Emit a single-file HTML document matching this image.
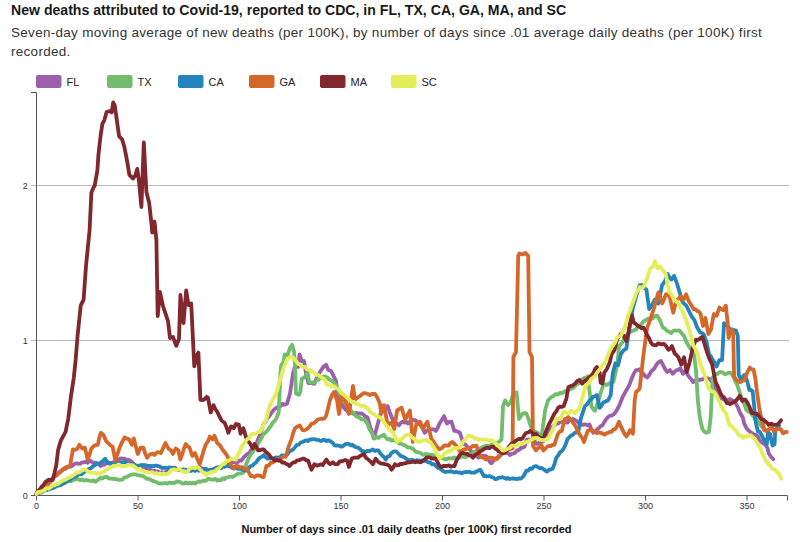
<!DOCTYPE html>
<html><head><meta charset="utf-8">
<style>
html,body{margin:0;padding:0;background:#fff;width:800px;height:542px;overflow:hidden}
body{position:relative;font-family:"Liberation Sans",sans-serif;color:#222}
.t{position:absolute;left:11px;top:0.3px;font-size:14.1px;font-weight:bold;white-space:nowrap;line-height:20px;color:#1a1a1a}
.s{position:absolute;left:11px;top:24px;font-size:13.5px;letter-spacing:0.29px;line-height:18.5px;color:#333;white-space:nowrap}
svg{position:absolute;left:0;top:0}
</style></head>
<body>
<div class="t">New deaths attributed to Covid-19, reported to CDC, in FL, TX, CA, GA, MA, and SC</div>
<div class="s">Seven-day moving average of new deaths (per 100K), by number of days since .01 average daily deaths (per 100K) first<br>recorded.</div>
<svg width="800" height="542" viewBox="0 0 800 542" font-family="Liberation Sans, sans-serif">
<g id="legend" font-size="11" fill="#222">
<rect x="36" y="75" width="25.5" height="13" rx="2" fill="#9b5fab"/><text x="66.5" y="86">FL</text>
<rect x="107" y="75" width="25.5" height="13" rx="2" fill="#72bd6c"/><text x="137.5" y="86">TX</text>
<rect x="178" y="75" width="25.5" height="13" rx="2" fill="#2584bb"/><text x="208.5" y="86">CA</text>
<rect x="249" y="75" width="25.5" height="13" rx="2" fill="#d5672a"/><text x="279.5" y="86">GA</text>
<rect x="320" y="75" width="25.5" height="13" rx="2" fill="#80282e"/><text x="350.5" y="86">MA</text>
<rect x="391" y="75" width="25.5" height="13" rx="2" fill="#e4ee5a"/><text x="421.5" y="86">SC</text>
</g>
<g id="grid" stroke="#bbb" stroke-width="1">
<line x1="31" y1="185.5" x2="789" y2="185.5"/>
<line x1="31" y1="340.5" x2="789" y2="340.5"/>
</g>
<g id="axes" fill="none" stroke="#555" stroke-width="1">
<path d="M31,92.5H36.5V495.5H31"/>
<path d="M36.5,500.5V495.5H787.5V500.5"/>
<path d="M138,495.5V500.5M239.5,495.5V500.5M341,495.5V500.5M442.5,495.5V500.5M544,495.5V500.5M645.5,495.5V500.5M747,495.5V500.5"/>
</g>
<g id="ylab" font-size="9" fill="#333" text-anchor="end">
<text x="27.7" y="498.7">0</text>
<text x="27.7" y="188.7">2</text>
<text x="27.7" y="343.7">1</text>
</g>
<g id="xlab" font-size="9" fill="#333" text-anchor="middle">
<text x="36.5" y="509.4">0</text>
<text x="138" y="509.4">50</text>
<text x="239.5" y="509.4">100</text>
<text x="341" y="509.4">150</text>
<text x="442.5" y="509.4">200</text>
<text x="544" y="509.4">250</text>
<text x="645.5" y="509.4">300</text>
<text x="747" y="509.4">350</text>
</g>
<text x="406.5" y="533" font-size="11" font-weight="bold" text-anchor="middle" fill="#111">Number of days since .01 daily deaths (per 100K) first recorded</text>
<g id="lines" fill="none" stroke-width="3.8" stroke-linejoin="round" stroke-linecap="round">
<path stroke="#9b5fab" d="M36.5,494.0 L37.8,491.0 L40.0,489.1 L42.1,487.2 L44.3,486.7 L46.5,483.9 L48.6,483.3 L50.8,481.7 L52.6,479.4 L54.5,476.7 L56.3,475.5 L58.1,473.4 L60.0,471.3 L61.8,471.0 L63.6,469.1 L65.5,468.8 L67.3,467.1 L69.2,466.8 L71.1,466.7 L72.9,465.1 L74.7,463.8 L76.6,463.4 L78.4,463.7 L80.3,463.8 L82.1,462.3 L84.0,462.3 L85.8,461.7 L87.7,462.7 L89.5,460.7 L91.4,461.4 L93.2,463.0 L95.1,462.8 L96.9,463.4 L98.8,464.3 L100.6,466.0 L102.4,464.7 L104.3,464.8 L106.1,463.3 L107.9,462.4 L109.8,463.0 L111.7,462.8 L113.5,462.3 L115.3,461.3 L117.2,461.0 L119.0,459.3 L120.9,458.5 L122.7,458.7 L124.5,458.6 L126.4,460.0 L128.2,459.9 L130.1,460.5 L132.1,462.0 L134.0,464.3 L136.0,466.0 L137.8,466.5 L139.7,466.7 L141.5,468.3 L143.4,468.6 L145.2,468.8 L147.1,468.6 L148.9,469.7 L150.8,469.9 L152.6,471.0 L154.5,470.6 L156.3,471.6 L158.2,471.3 L160.0,473.2 L161.9,472.1 L163.7,473.4 L165.5,472.1 L167.4,471.7 L169.2,469.4 L171.1,469.0 L172.9,467.9 L174.7,467.5 L176.6,469.3 L178.4,470.0 L180.3,470.2 L182.1,470.6 L184.0,471.4 L185.8,470.2 L187.7,471.0 L189.5,470.8 L191.4,470.6 L193.2,470.2 L195.1,469.4 L196.9,469.7 L198.8,469.3 L200.6,467.9 L202.4,468.4 L204.3,469.3 L206.1,468.6 L208.0,470.5 L209.8,470.6 L211.6,470.2 L213.5,470.1 L215.3,469.1 L217.2,467.3 L219.0,467.0 L220.9,466.2 L222.7,466.2 L224.6,464.4 L226.4,464.7 L228.3,464.2 L230.2,463.1 L232.2,462.5 L234.1,461.9 L236.0,462.3 L237.8,462.2 L239.7,460.4 L241.5,460.5 L243.4,457.8 L245.2,455.9 L247.1,454.0 L248.9,453.4 L250.8,450.4 L252.7,449.8 L254.5,448.5 L256.3,444.0 L258.1,439.3 L260.0,434.8 L261.8,429.5 L263.7,423.6 L265.5,421.9 L267.4,418.2 L269.2,416.2 L271.4,412.9 L273.7,410.0 L275.9,408.1 L278.1,406.8 L280.4,406.1 L282.6,403.8 L284.8,404.7 L287.0,403.8 L290.0,393.5 L292.9,374.3 L295.1,365.4 L298.1,366.9 L299.5,354.4 L301.8,361.0 L304.0,361.0 L306.2,374.3 L308.4,383.1 L311.4,383.1 L314.3,383.9 L316.1,379.2 L318.0,375.8 L320.2,371.5 L322.4,368.4 L324.2,366.0 L326.1,364.7 L328.3,369.9 L331.3,371.3 L333.5,375.8 L336.0,381.0 L337.0,390.0 L340.0,400.0 L342.0,403.5 L344.0,408.0 L346.0,410.0 L348.0,412.0 L350.0,412.8 L352.0,412.9 L354.0,414.0 L355.9,412.9 L357.9,413.6 L359.9,413.4 L361.8,413.5 L363.7,414.8 L365.5,416.8 L367.4,417.1 L369.5,424.6 L371.7,431.3 L373.8,438.4 L376.0,430.6 L378.1,422.8 L380.3,414.4 L382.1,411.4 L384.0,411.0 L385.9,408.7 L387.7,406.1 L389.5,411.7 L391.4,416.5 L393.2,420.8 L395.1,422.1 L397.0,423.7 L398.9,425.4 L400.8,422.8 L402.6,421.7 L404.4,422.6 L406.3,422.0 L408.1,423.5 L410.0,421.4 L411.8,420.5 L413.7,419.8 L415.5,420.4 L417.4,421.9 L419.2,423.5 L421.0,425.7 L422.9,428.6 L424.7,432.7 L426.6,430.8 L428.4,429.4 L430.3,429.0 L432.1,429.4 L434.0,429.3 L435.8,430.9 L437.6,427.9 L439.5,423.5 L441.8,420.0 L444.1,416.1 L446.9,423.5 L449.2,421.9 L451.5,421.7 L454.3,430.9 L456.1,431.0 L458.0,431.8 L459.8,432.7 L461.6,438.0 L463.5,443.8 L465.3,444.3 L467.2,447.0 L469.0,447.5 L470.9,451.0 L472.7,452.4 L474.6,454.9 L476.5,456.3 L478.4,457.7 L480.2,456.4 L482.1,456.0 L483.9,456.0 L485.8,455.9 L487.7,457.9 L489.5,461.5 L491.4,463.3 L493.2,460.8 L495.1,458.6 L496.9,457.7 L498.8,457.2 L500.6,455.0 L502.4,452.9 L504.3,452.2 L506.1,453.2 L508.0,453.1 L509.8,455.0 L511.7,453.9 L513.5,453.7 L515.4,452.3 L517.2,450.4 L519.1,449.9 L520.9,448.1 L522.8,447.4 L524.6,446.7 L526.4,440.2 L528.2,439.3 L530.1,440.3 L531.9,439.6 L533.8,439.3 L536.0,443.9 L537.9,443.8 L539.7,442.2 L541.5,441.2 L543.4,441.1 L545.2,438.3 L547.1,435.2 L548.9,431.5 L550.8,427.3 L552.6,426.7 L554.5,425.5 L556.3,423.6 L558.1,423.5 L560.0,421.9 L561.8,421.8 L563.7,422.1 L565.5,422.1 L567.4,422.7 L569.2,420.5 L571.1,419.3 L572.9,419.0 L574.7,419.8 L576.6,421.0 L578.4,422.7 L580.3,423.7 L582.1,424.8 L584.0,424.5 L585.8,424.4 L587.7,425.4 L589.5,424.5 L591.4,429.6 L593.2,432.8 L595.0,432.2 L596.9,429.5 L598.7,428.2 L600.5,426.2 L602.4,425.4 L604.3,422.1 L606.1,419.3 L608.0,417.1 L609.8,415.6 L611.7,415.5 L613.5,414.4 L615.3,412.4 L617.2,409.5 L619.0,406.1 L620.9,401.4 L622.7,396.8 L624.5,393.7 L626.4,390.0 L628.2,387.3 L630.0,383.2 L631.9,378.0 L634.0,373.2 L636.0,370.1 L637.9,370.0 L639.7,369.2 L641.5,372.3 L643.4,373.8 L645.2,376.2 L647.1,377.5 L649.0,375.3 L650.8,372.0 L652.6,370.1 L654.5,368.3 L656.3,364.9 L658.1,362.7 L660.9,360.9 L663.7,366.4 L665.5,369.8 L667.4,372.0 L670.1,370.1 L672.9,373.8 L674.8,371.6 L676.6,370.1 L678.5,369.8 L680.3,368.3 L683.0,373.8 L685.8,370.1 L687.6,374.7 L689.5,377.5 L691.4,379.6 L693.2,382.1 L695.0,380.5 L696.9,379.3 L698.7,380.2 L700.6,379.7 L702.4,379.3 L704.3,378.3 L706.1,378.0 L708.0,378.4 L709.8,379.1 L711.6,381.2 L713.5,384.8 L715.3,386.7 L717.8,393.2 L720.3,398.5 L722.1,398.1 L724.0,399.8 L725.8,399.4 L727.9,400.2 L730.0,399.0 L731.7,400.4 L733.5,400.9 L735.2,402.3 L737.7,406.8 L740.3,413.2 L742.9,417.8 L744.2,423.6 L746.8,428.7 L748.8,430.7 L750.7,432.6 L752.6,433.2 L754.5,435.2 L756.1,434.9 L757.8,436.5 L759.4,440.0 L761.0,441.7 L763.0,443.2 L764.9,444.2 L767.5,448.1 L768.7,453.3 L771.3,457.2 L773.3,459.1"/>
<path stroke="#72bd6c" d="M36.5,494.0 L38.1,493.5 L39.7,492.8 L41.8,492.6 L43.9,490.6 L46.0,490.4 L48.2,489.2 L50.3,486.9 L52.4,486.0 L54.5,485.4 L56.6,484.4 L58.8,483.6 L61.0,483.7 L63.1,482.5 L65.2,482.2 L67.4,481.7 L69.2,480.4 L71.1,481.4 L72.9,479.8 L74.8,479.5 L76.6,479.0 L78.4,479.3 L80.3,480.2 L82.1,479.4 L84.0,480.6 L85.8,479.9 L87.6,480.3 L89.5,480.7 L91.3,481.0 L93.2,480.4 L95.0,481.7 L96.9,480.7 L98.7,479.2 L100.6,477.9 L102.4,478.6 L104.3,477.1 L106.1,476.8 L108.0,477.8 L109.8,478.7 L111.7,478.7 L113.5,479.0 L115.3,478.9 L117.2,479.5 L119.1,479.8 L120.9,479.9 L122.7,479.5 L124.5,477.3 L126.4,477.2 L128.2,476.2 L130.1,475.1 L131.9,474.5 L133.8,474.3 L136.0,474.3 L137.8,475.3 L139.7,475.3 L141.6,475.8 L143.4,476.2 L145.2,477.6 L147.1,478.9 L149.0,478.9 L150.8,479.9 L152.6,480.9 L154.5,481.4 L156.3,482.1 L158.2,483.2 L160.0,483.6 L161.8,483.3 L163.7,483.3 L165.5,483.0 L167.4,483.7 L169.2,482.6 L171.0,482.8 L172.9,483.0 L174.7,482.9 L176.6,481.4 L178.4,481.7 L180.3,482.2 L182.1,483.3 L184.0,483.5 L185.8,482.5 L187.7,483.6 L189.5,482.8 L191.3,483.5 L193.2,482.7 L195.0,483.6 L196.8,482.4 L198.7,481.3 L200.6,481.8 L202.4,480.8 L204.2,480.9 L206.1,480.7 L208.0,478.8 L209.8,479.0 L211.6,479.6 L213.5,479.7 L215.3,478.8 L217.2,480.5 L219.0,479.9 L220.9,480.3 L222.7,478.2 L224.6,479.1 L226.4,477.5 L228.3,477.1 L230.2,476.5 L232.2,477.0 L234.1,476.2 L236.0,475.0 L237.8,473.7 L239.7,473.6 L241.6,473.2 L243.4,472.5 L245.2,467.2 L247.1,462.0 L248.9,457.7 L250.8,454.6 L252.6,452.6 L254.5,448.5 L256.3,446.7 L258.1,443.7 L260.0,440.4 L261.8,437.4 L263.6,434.1 L265.5,432.5 L267.4,430.7 L269.2,428.2 L271.0,425.8 L272.9,422.4 L274.7,420.8 L276.5,418.1 L278.4,413.5 L278.9,410.0 L280.4,374.3 L281.1,365.4 L283.3,362.5 L284.8,354.4 L287.7,355.1 L290.0,347.7 L292.2,344.8 L294.1,352.1 L295.1,366.9 L295.9,393.5 L298.8,394.9 L300.3,392.0 L301.8,378.7 L304.7,377.2 L307.7,372.8 L309.1,381.7 L311.0,382.6 L312.8,382.4 L314.5,382.6 L316.3,380.1 L318.0,380.2 L320.2,378.2 L322.4,377.2 L324.6,376.3 L326.8,377.2 L329.1,379.3 L331.3,380.2 L333.6,382.3 L336.0,385.4 L338.0,389.0 L340.0,394.0 L342.0,397.2 L344.0,401.5 L346.0,404.0 L348.0,407.3 L350.0,408.9 L352.0,412.0 L354.0,413.0 L356.1,416.2 L358.1,417.1 L360.0,418.2 L361.8,419.4 L363.6,419.1 L365.5,420.8 L367.4,423.6 L369.2,428.6 L371.1,431.9 L372.9,435.0 L374.7,438.4 L376.6,436.9 L378.4,438.0 L380.3,436.5 L382.1,435.9 L384.0,434.7 L385.9,437.6 L387.7,439.3 L389.5,438.8 L391.4,440.6 L393.2,440.2 L395.1,440.2 L397.1,442.0 L398.9,443.6 L400.8,443.7 L402.6,444.7 L404.5,445.1 L406.3,446.2 L408.1,447.7 L410.0,447.5 L411.7,448.3 L413.5,449.2 L415.2,451.2 L417.1,452.2 L419.0,452.5 L421.0,453.2 L422.9,454.9 L424.8,454.2 L426.6,454.0 L428.4,454.3 L430.3,454.9 L432.1,455.0 L434.0,455.4 L435.9,456.8 L437.7,456.7 L439.5,457.0 L441.4,458.1 L443.2,458.2 L445.0,459.5 L446.9,459.0 L448.7,458.1 L450.5,458.3 L452.4,458.6 L454.2,457.4 L456.1,458.6 L457.9,458.0 L459.8,457.6 L461.6,456.5 L463.5,456.6 L465.4,457.1 L467.2,455.8 L469.1,454.1 L470.9,454.6 L472.8,452.9 L474.6,452.1 L476.4,450.9 L478.2,450.5 L480.1,448.4 L481.9,447.5 L483.9,446.6 L486.0,445.6 L487.8,445.7 L489.6,446.0 L491.4,444.8 L493.2,443.8 L495.0,444.1 L496.9,443.1 L498.7,442.0 L501.5,439.3 L503.0,406.0 L505.2,400.5 L508.0,405.1 L510.7,402.4 L512.6,396.0 L514.5,394.4 L516.5,392.2 L519.0,419.0 L520.9,416.1 L522.7,413.5 L524.5,413.2 L526.4,413.5 L528.2,418.1 L530.1,424.5 L532.9,431.9 L534.5,431.2 L536.0,432.0 L537.8,432.9 L539.7,436.1 L541.5,437.4 L545.2,409.8 L548.0,400.5 L549.8,398.5 L551.5,396.9 L553.3,396.1 L555.5,394.2 L557.8,394.6 L560.0,392.8 L561.9,393.1 L563.7,392.2 L565.5,391.0 L567.4,391.0 L569.2,389.6 L571.1,388.7 L572.9,388.2 L574.7,386.6 L576.6,384.4 L578.4,383.6 L580.3,381.6 L582.1,379.4 L584.0,378.0 L585.9,378.0 L587.7,376.2 L589.5,390.9 L591.4,406.1 L593.2,409.3 L595.0,410.7 L596.9,405.7 L598.7,400.5 L600.6,392.8 L603.3,385.4 L605.2,384.3 L607.0,385.1 L608.9,383.6 L611.2,382.3 L613.5,381.7 L617.2,365.1 L619.0,346.7 L620.9,344.1 L622.7,342.0 L624.5,337.8 L626.4,335.6 L628.2,333.5 L630.1,331.9 L632.1,331.0 L634.0,330.3 L636.0,329.5 L637.8,327.1 L639.7,325.8 L641.5,324.0 L643.4,321.5 L645.2,320.5 L647.1,319.4 L648.9,318.3 L650.8,318.6 L652.6,318.5 L654.9,316.2 L657.2,315.7 L660.0,320.3 L662.8,327.7 L664.6,328.1 L666.4,330.4 L668.8,331.4 L671.1,333.2 L672.9,331.3 L674.7,330.4 L677.0,330.6 L679.4,330.4 L681.7,333.3 L684.0,336.0 L685.9,340.7 L687.7,344.3 L689.5,347.4 L691.4,349.8 L694.1,355.4 L696.0,370.1 L697.8,400.0 L699.7,417.1 L702.4,429.1 L704.2,431.4 L706.1,432.8 L708.9,431.9 L710.7,417.1 L712.6,377.5 L715.3,373.8 L717.2,374.0 L719.0,372.4 L720.9,372.0 L722.7,372.3 L724.6,374.2 L726.4,373.8 L728.7,372.6 L731.0,372.9 L733.8,377.5 L735.3,381.2 L736.9,384.1 L738.8,389.7 L740.6,394.8 L742.9,401.0 L744.5,404.3 L746.1,409.4 L748.4,411.7 L750.7,412.6 L752.4,415.3 L754.1,416.7 L755.8,418.4 L757.8,421.5 L759.7,423.6 L762.3,427.5 L764.2,428.7"/>
<path stroke="#2584bb" d="M36.5,494.0 L37.8,491.9 L39.6,492.0 L41.5,490.2 L43.3,490.5 L45.2,490.0 L47.0,489.5 L49.2,489.4 L51.4,488.5 L53.7,487.8 L55.9,486.5 L58.1,485.5 L60.3,485.3 L62.5,483.9 L64.8,482.9 L67.0,481.0 L69.2,480.5 L71.4,478.3 L73.6,477.3 L75.9,476.5 L78.1,474.7 L80.3,474.3 L82.2,473.8 L84.0,472.1 L85.8,471.1 L87.7,469.7 L89.5,468.8 L91.3,467.8 L93.2,466.2 L95.0,465.1 L96.8,463.2 L98.7,463.8 L100.6,462.8 L102.4,461.4 L105.2,458.7 L108.0,463.3 L109.8,463.5 L111.7,463.8 L113.5,464.3 L115.3,464.2 L117.2,462.9 L119.0,463.7 L120.8,462.3 L122.7,462.3 L124.5,461.9 L126.4,462.8 L128.2,464.2 L130.1,464.2 L132.1,464.0 L134.0,465.5 L136.0,465.5 L137.8,466.4 L139.7,465.3 L141.5,465.0 L143.4,465.1 L145.2,465.1 L147.1,465.6 L148.9,466.0 L150.8,465.9 L152.6,466.1 L154.5,466.0 L156.3,465.5 L158.2,466.1 L160.0,466.6 L161.9,468.0 L163.7,467.9 L165.5,467.7 L167.4,468.4 L169.2,467.5 L171.1,467.7 L172.9,468.8 L174.7,468.5 L176.6,469.5 L178.4,469.7 L180.3,469.9 L182.1,469.7 L184.0,469.5 L185.8,470.1 L187.7,470.2 L189.5,470.4 L191.4,470.6 L193.2,469.7 L195.1,471.0 L196.9,469.5 L198.8,470.8 L200.6,469.7 L202.4,470.6 L204.3,468.7 L206.1,469.6 L208.0,470.3 L209.8,469.7 L211.6,470.3 L213.5,468.9 L215.3,468.2 L217.2,467.7 L219.0,467.9 L220.9,468.4 L222.7,466.6 L224.6,466.9 L226.4,465.7 L228.3,466.0 L230.2,466.5 L232.2,467.9 L234.1,466.8 L236.0,468.0 L237.8,468.9 L239.7,468.6 L241.5,468.8 L243.4,470.2 L245.2,470.4 L247.1,470.6 L248.9,467.8 L250.8,466.0 L252.6,465.6 L254.5,463.5 L256.3,462.3 L258.1,459.5 L260.0,457.7 L261.9,456.8 L263.7,455.0 L265.5,456.8 L267.4,458.7 L269.2,458.3 L271.1,458.0 L272.9,458.7 L274.8,457.9 L276.6,457.4 L278.4,458.0 L280.3,456.8 L282.1,455.2 L284.0,456.1 L285.8,455.0 L287.7,454.1 L289.5,451.2 L291.4,450.4 L293.2,449.4 L295.1,447.1 L296.9,444.8 L298.7,444.7 L300.6,442.5 L302.4,442.0 L304.2,441.1 L306.1,440.4 L307.9,441.0 L309.8,439.3 L311.6,439.5 L313.5,439.0 L315.3,439.3 L317.2,439.8 L319.0,440.1 L320.9,441.1 L322.7,440.0 L324.5,439.9 L326.4,441.1 L328.2,440.2 L330.5,441.2 L332.9,443.0 L334.4,445.2 L336.0,445.7 L337.8,445.5 L339.7,445.9 L341.5,446.7 L343.4,445.8 L345.2,444.2 L347.1,443.9 L348.9,443.9 L350.8,445.4 L352.6,444.8 L354.4,446.5 L356.3,447.3 L358.1,447.6 L360.0,449.1 L361.8,450.9 L363.7,451.3 L365.6,452.0 L367.4,450.9 L369.2,451.1 L371.1,450.4 L372.9,449.5 L374.8,450.9 L376.6,450.3 L378.4,450.4 L380.2,453.2 L382.1,455.3 L383.9,456.9 L385.8,459.6 L387.7,456.5 L389.6,456.1 L391.5,453.0 L393.8,451.4 L396.0,451.3 L398.3,453.5 L400.6,455.9 L402.4,456.5 L404.3,457.4 L406.1,458.7 L408.0,459.6 L409.8,460.6 L411.6,459.6 L413.5,460.5 L415.4,460.8 L417.2,460.1 L419.0,460.6 L420.9,460.5 L422.7,460.7 L424.5,460.7 L426.4,461.2 L428.2,462.3 L430.1,462.3 L432.1,464.3 L434.0,464.1 L435.9,465.9 L437.7,467.8 L439.6,468.2 L441.5,469.7 L443.4,471.1 L445.2,472.0 L447.1,471.6 L449.0,471.7 L450.8,471.3 L452.6,471.7 L454.5,472.5 L456.3,471.9 L458.1,472.6 L460.0,472.4 L461.8,473.4 L463.6,472.4 L465.5,472.0 L467.4,472.2 L469.2,471.6 L471.0,472.7 L472.9,472.7 L474.7,472.5 L476.6,471.4 L478.4,470.5 L480.3,469.7 L482.1,473.0 L484.0,476.2 L485.9,476.2 L487.7,476.3 L489.5,476.0 L491.4,477.1 L493.2,477.3 L495.1,479.2 L496.9,478.9 L498.7,477.6 L500.6,477.7 L502.4,477.1 L504.2,477.8 L506.1,478.8 L507.9,478.0 L509.8,479.0 L511.7,478.5 L513.5,478.5 L515.4,478.8 L517.2,479.0 L519.0,478.3 L520.9,478.6 L522.7,477.1 L524.5,474.5 L526.4,470.6 L528.2,470.7 L530.1,468.4 L531.9,468.8 L534.0,466.5 L536.0,466.0 L537.8,467.1 L539.7,468.1 L541.5,467.9 L543.4,469.1 L545.2,470.5 L547.1,471.6 L548.9,469.7 L550.8,469.5 L552.6,468.8 L554.5,464.1 L556.3,457.7 L558.1,455.6 L560.0,452.2 L561.9,451.1 L563.7,448.5 L565.5,444.8 L567.4,439.3 L569.2,437.3 L571.1,435.5 L572.9,434.7 L574.7,432.8 L576.6,432.3 L578.4,431.0 L581.2,417.1 L583.0,412.0 L584.9,406.1 L587.2,404.2 L589.5,400.5 L591.4,399.1 L593.2,396.8 L595.0,396.2 L596.9,395.0 L599.7,407.9 L601.5,405.7 L603.3,402.4 L605.6,401.4 L608.0,400.5 L610.7,395.0 L612.6,374.3 L615.3,363.3 L618.1,365.1 L620.9,354.0 L623.6,350.4 L626.4,348.5 L628.2,335.6 L631.0,319.0 L632.6,309.0 L634.5,302.7 L636.3,296.1 L638.1,289.7 L640.0,285.1 L642.8,285.1 L644.6,288.0 L646.4,289.7 L649.2,309.0 L652.0,305.4 L654.7,299.8 L656.5,301.1 L658.4,303.5 L662.1,285.1 L664.9,281.4 L667.7,274.0 L669.5,277.6 L671.3,279.5 L674.1,275.8 L676.9,283.2 L679.7,292.4 L682.4,301.7 L684.2,303.8 L686.1,305.4 L688.9,310.9 L691.6,316.4 L694.4,320.1 L697.2,327.5 L700.0,332.4 L701.9,333.0 L703.7,334.3 L706.5,341.7 L709.2,354.6 L711.0,356.6 L712.9,360.1 L714.8,362.9 L716.6,366.6 L719.4,360.1 L722.1,360.1 L724.0,323.2 L726.8,325.1 L729.5,328.7 L731.4,329.5 L733.2,329.7 L736.0,330.6 L737.8,336.1 L738.7,374.9 L740.6,378.6 L742.5,377.1 L744.3,374.9 L747.0,380.4 L749.4,390.0 L751.0,389.9 L752.6,391.3 L753.9,402.9 L755.2,419.7 L757.8,431.3 L759.4,431.7 L761.0,433.9 L763.6,439.1 L765.2,441.7 L766.8,444.2 L768.1,432.6 L770.0,433.9 L772.6,445.5 L774.6,444.2 L775.2,430.0 L777.8,427.5 L779.1,425.5"/>
<path stroke="#d5672a" d="M36.5,494.0 L37.8,491.0 L39.6,490.0 L41.5,488.5 L43.3,487.1 L45.2,486.7 L47.0,485.4 L48.9,482.1 L50.8,480.4 L52.6,478.4 L54.5,476.2 L56.3,475.6 L58.2,473.5 L60.0,472.5 L61.9,470.2 L63.7,468.8 L65.8,467.3 L68.0,466.4 L70.1,466.0 L72.9,449.4 L75.2,449.9 L77.5,448.5 L79.4,444.8 L82.1,448.5 L84.9,447.6 L87.7,459.6 L89.6,454.5 L91.4,448.5 L94.1,445.7 L95.9,444.9 L97.8,444.8 L99.3,437.8 L100.9,432.8 L103.3,434.7 L106.1,441.1 L108.3,443.0 L110.4,445.2 L112.6,446.7 L115.3,460.5 L117.7,453.4 L120.0,446.7 L122.3,441.6 L124.6,437.4 L126.9,438.7 L129.2,439.3 L131.9,444.8 L133.8,438.4 L136.0,447.0 L137.8,454.0 L140.6,447.6 L143.4,447.6 L145.2,453.5 L147.1,457.7 L148.9,455.3 L150.8,454.0 L152.7,453.6 L154.5,455.0 L157.2,452.2 L159.1,452.3 L160.9,453.1 L163.2,447.9 L165.5,443.0 L168.3,448.5 L171.1,450.4 L172.9,454.0 L175.7,448.5 L178.4,450.4 L180.3,459.6 L182.1,454.7 L184.0,448.5 L185.8,443.9 L187.7,446.3 L189.5,447.6 L192.3,455.9 L195.0,453.1 L197.3,459.1 L199.7,464.2 L202.0,456.4 L204.3,448.5 L206.1,443.9 L208.0,441.4 L209.8,436.5 L212.6,439.3 L214.4,435.6 L217.2,443.0 L219.1,444.5 L220.9,446.7 L222.8,450.1 L224.6,452.2 L227.3,455.9 L230.1,464.2 L231.9,466.0 L233.8,468.8 L236.0,466.0 L237.8,465.9 L239.7,467.5 L241.6,467.0 L243.4,467.9 L245.2,469.3 L247.1,468.8 L248.9,472.5 L250.8,476.2 L252.7,476.0 L254.5,477.1 L256.3,475.6 L258.1,475.3 L260.0,475.7 L261.8,476.8 L263.7,477.1 L266.4,466.0 L268.6,465.7 L270.7,462.8 L272.9,462.3 L274.8,461.2 L276.6,459.9 L278.4,460.5 L280.3,458.7 L282.1,457.4 L284.0,456.5 L285.8,456.8 L288.6,446.7 L291.4,439.3 L293.2,432.9 L295.0,428.2 L297.4,426.6 L299.7,425.4 L302.4,430.1 L304.3,430.3 L306.1,429.6 L308.0,428.2 L309.8,426.4 L311.6,423.6 L313.5,423.4 L315.3,422.0 L317.2,419.9 L319.0,419.3 L320.9,418.7 L322.7,419.0 L324.4,418.4 L326.0,416.0 L328.0,408.5 L330.0,400.0 L332.0,395.1 L334.0,392.0 L337.0,400.0 L339.0,414.0 L342.0,394.0 L344.0,398.3 L346.0,402.0 L349.0,414.0 L353.0,386.0 L355.0,400.0 L357.0,398.0 L360.0,396.0 L362.0,394.3 L364.0,393.0 L366.0,393.4 L368.0,394.0 L370.0,395.0 L372.5,393.8 L375.0,394.0 L377.5,398.0 L380.0,404.0 L381.2,413.5 L384.0,405.1 L387.7,425.4 L389.5,423.6 L391.4,422.7 L394.3,429.0 L397.1,410.6 L399.4,408.9 L401.7,407.8 L403.5,414.7 L405.4,419.8 L407.7,414.4 L410.0,410.6 L412.8,442.0 L416.4,423.5 L418.2,423.5 L420.1,421.7 L422.9,429.0 L425.2,424.8 L427.5,421.7 L431.2,438.3 L433.0,440.8 L434.9,443.8 L437.2,447.2 L439.5,449.3 L441.8,448.1 L444.1,445.6 L446.4,445.5 L448.7,445.6 L450.5,442.9 L452.4,442.0 L454.2,443.7 L456.1,445.6 L458.0,448.1 L459.8,451.2 L461.6,451.4 L463.5,449.3 L465.3,449.3 L467.2,448.4 L469.0,448.9 L470.9,447.5 L472.7,445.9 L474.6,446.1 L476.4,445.6 L478.3,451.4 L480.2,456.0 L482.1,457.7 L483.9,457.5 L485.8,459.6 L488.1,457.7 L490.4,457.7 L492.7,457.8 L495.0,459.6 L496.9,458.9 L498.7,456.0 L500.6,455.0 L502.5,453.6 L504.3,451.3 L506.1,451.5 L508.0,449.7 L509.8,449.4 L512.6,448.5 L513.4,357.0 L516.0,352.0 L518.2,256.0 L519.5,253.5 L522.5,254.5 L525.5,253.0 L528.2,256.0 L529.5,352.0 L532.0,357.0 L533.0,446.0 L536.0,450.4 L537.8,448.1 L539.7,447.6 L541.5,444.8 L543.4,450.4 L545.2,448.8 L547.1,446.7 L549.0,445.7 L550.8,446.2 L552.6,444.9 L554.5,444.8 L556.3,438.8 L558.1,433.7 L560.0,431.4 L561.8,431.0 L564.6,419.0 L566.5,418.6 L568.3,417.1 L570.1,419.8 L572.0,420.8 L573.9,423.9 L575.7,426.4 L578.0,431.9 L580.3,435.6 L582.1,437.8 L584.0,442.0 L585.9,436.0 L587.7,431.0 L589.5,430.0 L591.4,429.1 L593.2,431.4 L595.0,431.9 L596.9,433.1 L598.7,432.3 L600.6,432.8 L602.5,433.3 L604.3,434.7 L606.1,433.6 L608.0,432.8 L609.8,431.9 L611.6,431.8 L613.5,429.4 L615.3,429.1 L617.1,426.1 L619.0,421.8 L620.9,426.4 L622.7,430.1 L624.5,433.9 L626.4,436.5 L628.2,433.8 L630.1,430.1 L632.9,433.7 L634.7,400.0 L636.0,392.0 L637.9,390.5 L639.7,388.6 L643.4,355.4 L647.1,327.7 L650.1,320.1 L652.0,314.2 L653.8,309.0 L656.1,300.3 L658.4,292.4 L660.2,297.7 L662.1,303.5 L664.0,299.5 L665.8,294.3 L667.6,294.4 L669.5,296.1 L673.2,312.7 L675.0,305.6 L676.9,299.8 L678.8,298.5 L680.6,296.1 L683.3,299.8 L686.1,294.3 L688.9,301.7 L691.2,304.8 L693.5,309.0 L695.4,309.1 L697.2,311.0 L698.9,311.6 L700.6,314.0 L703.0,326.0 L705.5,318.0 L708.3,334.0 L711.1,329.0 L713.8,314.0 L716.6,315.8 L719.4,307.5 L721.2,309.0 L723.1,310.3 L725.8,305.7 L727.7,323.2 L728.6,338.0 L730.4,330.6 L732.3,329.7 L733.2,334.3 L734.1,376.7 L736.9,380.4 L739.7,382.3 L742.0,381.0 L744.3,380.4 L747.0,373.0 L749.8,367.5 L751.6,369.4 L753.5,369.3 L755.4,378.6 L757.0,392.0 L759.1,406.8 L761.0,417.1 L762.9,423.6 L764.2,430.0 L765.9,430.8 L767.5,430.0 L770.0,428.7 L772.0,427.5 L773.9,431.3 L775.8,430.0 L778.4,428.7 L781.0,429.4 L783.0,433.3 L785.5,432.0 L786.8,432.0"/>
<path stroke="#80282e" d="M36.5,494.0 L37.8,491.0 L39.7,490.1 L41.5,486.8 L43.4,485.4 L45.2,482.3 L47.1,480.8 L48.9,479.7 L50.8,480.2 L52.6,479.9 L54.5,472.9 L56.3,465.1 L58.1,450.0 L60.9,440.4 L63.2,436.1 L65.5,432.1 L68.3,418.3 L71.0,396.0 L73.8,377.7 L75.7,359.2 L77.6,335.5 L80.7,305.6 L83.6,299.6 L86.0,266.0 L89.6,230.0 L91.4,192.4 L93.1,188.4 L94.7,185.5 L97.4,170.3 L98.5,154.0 L100.7,134.9 L102.4,123.8 L104.4,120.1 L106.6,112.0 L109.5,111.2 L111.7,112.4 L113.2,102.4 L114.7,105.3 L116.6,118.6 L119.1,136.3 L122.1,139.3 L124.3,146.7 L127.2,161.4 L129.4,175.0 L131.2,176.6 L132.9,178.6 L135.1,175.8 L137.3,168.9 L139.0,181.3 L141.4,207.0 L143.8,142.4 L146.4,192.0 L149.2,203.0 L151.7,226.0 L152.2,232.5 L154.5,221.5 L156.4,240.0 L157.7,316.0 L159.9,292.0 L163.0,306.0 L165.5,313.7 L168.0,321.0 L170.0,338.0 L173.0,337.0 L174.7,341.7 L176.3,345.7 L179.0,338.7 L180.4,295.0 L183.5,323.0 L186.2,290.5 L188.5,305.0 L191.2,303.5 L194.3,366.4 L197.0,355.4 L198.4,352.6 L200.4,399.6 L202.2,400.1 L204.0,399.6 L206.7,396.9 L208.0,397.8 L210.7,412.5 L213.5,405.1 L215.3,409.0 L217.2,411.6 L219.5,416.5 L221.8,420.8 L224.6,422.7 L226.4,427.0 L228.3,432.8 L231.0,426.4 L233.8,428.2 L236.0,424.0 L238.8,424.5 L240.6,433.7 L243.4,428.2 L246.1,437.4 L247.9,440.9 L249.8,443.0 L252.6,448.5 L254.5,443.9 L256.3,446.7 L258.1,450.4 L260.0,450.2 L261.8,449.5 L263.7,449.4 L265.5,451.7 L267.4,453.1 L269.2,454.8 L271.1,457.7 L272.9,458.6 L274.7,460.5 L276.5,460.0 L278.4,460.5 L280.3,460.4 L282.1,462.5 L284.0,462.3 L285.8,463.7 L287.7,464.4 L289.5,466.0 L291.4,463.9 L293.2,462.3 L295.0,462.4 L296.9,460.5 L298.8,460.1 L300.6,459.6 L302.5,458.6 L304.3,458.7 L306.1,460.2 L308.0,460.5 L309.8,465.4 L311.6,469.7 L314.4,464.2 L316.7,465.6 L319.0,465.1 L320.9,464.3 L322.7,465.1 L324.5,462.3 L326.4,459.6 L328.2,462.5 L330.1,464.2 L332.9,462.3 L334.4,463.9 L336.0,464.2 L337.8,464.1 L339.7,461.4 L341.5,461.4 L343.4,460.7 L345.2,460.0 L347.1,460.5 L348.9,467.0 L351.7,458.7 L354.0,457.6 L356.3,457.7 L358.1,457.7 L360.0,455.9 L361.9,455.1 L363.7,454.0 L366.0,457.7 L368.3,459.6 L370.6,461.6 L372.9,464.2 L375.7,458.7 L378.0,461.7 L380.3,463.3 L382.6,463.6 L384.9,464.2 L387.2,464.6 L389.5,466.0 L391.4,469.7 L393.2,467.5 L395.0,464.2 L396.9,465.5 L398.7,465.1 L400.6,463.7 L402.4,464.1 L404.3,463.3 L406.1,463.2 L408.0,462.1 L409.8,462.3 L411.6,462.0 L413.5,461.6 L415.3,462.3 L417.2,461.7 L419.0,461.8 L420.9,462.3 L422.7,461.0 L424.6,459.5 L426.4,457.7 L428.2,457.4 L430.1,457.4 L431.9,458.7 L433.9,458.4 L436.0,458.7 L437.8,462.7 L439.5,465.9 L441.5,467.0 L443.4,466.0 L445.2,466.0 L447.1,466.0 L449.0,465.4 L450.8,466.6 L452.6,466.1 L454.5,466.0 L456.3,461.0 L458.1,457.7 L460.0,454.6 L461.8,453.1 L463.7,453.2 L465.5,453.8 L467.4,454.0 L469.2,455.5 L471.1,455.6 L472.9,457.7 L474.8,455.2 L476.6,454.0 L478.4,453.2 L480.3,451.4 L482.1,450.4 L484.0,449.0 L485.8,448.1 L487.7,447.6 L489.5,448.2 L491.4,446.6 L493.2,446.7 L495.0,448.4 L496.9,449.5 L498.7,451.3 L500.6,451.7 L502.4,453.2 L504.3,453.1 L506.1,451.6 L508.0,447.9 L509.8,445.7 L511.6,443.6 L513.5,443.1 L515.3,441.1 L517.2,439.9 L519.0,438.9 L520.9,439.3 L522.7,437.9 L524.6,434.8 L526.4,432.8 L528.2,432.5 L530.1,431.0 L532.0,432.7 L533.8,434.7 L536.0,433.7 L537.9,436.3 L539.7,437.4 L541.5,438.3 L543.4,439.3 L545.2,433.7 L547.1,428.5 L548.9,424.5 L550.8,420.9 L552.6,417.4 L554.5,413.5 L556.3,411.5 L558.1,407.9 L560.0,406.5 L561.8,406.9 L563.7,406.1 L566.4,398.7 L568.3,387.3 L570.6,386.1 L572.9,385.4 L575.1,383.6 L577.2,381.0 L579.4,379.9 L582.1,383.6 L584.3,381.3 L586.4,379.9 L588.6,378.0 L591.4,375.3 L593.2,373.4 L595.1,369.0 L596.9,367.0 L599.7,372.5 L600.6,382.6 L602.4,383.6 L604.3,372.5 L607.0,368.8 L609.8,362.3 L611.6,354.0 L614.4,350.4 L617.2,339.3 L619.0,336.5 L620.9,333.7 L623.6,335.6 L626.4,341.1 L628.2,333.7 L630.1,322.7 L631.9,315.3 L633.8,322.7 L636.0,324.0 L637.9,326.0 L639.7,326.8 L641.5,328.2 L643.4,327.7 L645.2,330.8 L647.1,335.1 L649.0,338.0 L650.8,342.4 L652.6,344.7 L654.5,345.2 L656.3,345.3 L658.1,343.4 L660.0,343.8 L661.8,344.3 L663.6,343.9 L665.5,345.2 L668.3,349.8 L670.1,348.8 L672.0,346.1 L674.7,353.5 L676.5,355.1 L678.4,357.2 L681.2,364.6 L684.0,357.2 L686.7,372.0 L689.5,362.7 L693.2,346.1 L696.0,339.7 L697.9,340.0 L699.7,338.7 L702.4,336.9 L704.0,342.3 L705.5,347.2 L707.4,353.4 L709.2,358.3 L712.0,363.8 L713.8,373.0 L715.7,382.3 L718.0,386.9 L720.3,392.9 L722.1,395.8 L724.0,397.5 L726.8,403.1 L728.5,403.0 L730.2,404.0 L732.0,403.0 L733.9,402.3 L735.8,400.8 L737.8,398.6 L739.7,395.8 L742.3,401.0 L743.9,399.7 L745.5,399.7 L747.5,402.7 L749.4,406.8 L752.0,413.2 L753.7,413.2 L755.4,413.7 L757.1,413.9 L759.0,416.2 L761.0,419.0 L763.2,419.5 L765.5,421.6 L767.1,422.7 L768.7,424.9 L771.3,423.6 L773.2,424.7 L775.2,424.9 L777.2,424.7 L779.1,422.9 L781.0,420.3"/>
<path stroke="#e4ee5a" d="M36.5,494.0 L38.1,492.0 L39.7,491.9 L41.9,491.0 L44.1,490.5 L46.4,488.0 L48.6,488.7 L50.8,487.0 L52.6,485.3 L54.5,485.4 L56.3,484.4 L58.2,483.7 L60.0,482.5 L61.8,481.1 L63.7,480.3 L65.5,479.7 L67.4,478.4 L69.2,477.5 L71.0,476.8 L72.9,475.4 L74.7,474.4 L76.6,472.5 L78.4,472.5 L80.3,471.7 L82.1,470.5 L84.0,469.5 L85.8,469.7 L87.7,471.5 L89.6,472.3 L91.4,472.5 L93.2,472.8 L95.1,472.6 L96.9,473.5 L98.8,473.2 L100.6,474.3 L102.4,472.3 L104.3,471.6 L106.1,469.6 L108.0,469.1 L109.8,467.9 L111.7,467.2 L113.5,465.6 L115.3,466.1 L117.2,465.1 L119.0,464.5 L120.9,466.0 L122.8,466.3 L124.6,466.0 L126.4,465.8 L128.3,464.7 L130.2,465.3 L132.0,465.1 L134.0,466.3 L136.0,468.0 L137.8,469.6 L139.7,468.6 L141.6,470.7 L143.4,470.6 L145.2,472.1 L147.1,472.0 L149.0,472.7 L150.8,472.5 L152.6,472.1 L154.5,473.8 L156.3,473.0 L158.2,474.1 L160.0,473.4 L161.8,474.5 L163.7,473.3 L165.5,474.3 L167.3,473.7 L169.2,472.9 L171.1,470.0 L172.9,469.7 L174.8,469.4 L176.6,470.2 L178.5,469.0 L180.3,469.7 L182.1,471.4 L184.0,471.1 L185.8,472.5 L187.7,471.6 L189.5,468.7 L191.4,467.9 L193.2,467.6 L195.1,468.1 L196.9,467.0 L198.7,468.1 L200.6,469.8 L202.4,472.0 L204.3,473.3 L206.1,475.3 L207.9,473.4 L209.8,472.8 L211.7,471.8 L213.5,471.6 L215.3,471.1 L217.2,469.2 L219.1,468.2 L220.9,466.0 L222.8,464.0 L224.6,463.8 L226.5,461.1 L228.3,460.5 L230.2,459.7 L232.0,458.7 L234.0,459.4 L236.0,459.6 L237.8,455.0 L239.7,451.7 L241.5,446.7 L243.4,444.3 L245.2,441.9 L247.1,439.3 L248.9,438.2 L250.8,434.8 L252.6,433.7 L254.4,434.2 L256.3,433.1 L258.1,432.1 L260.0,431.9 L262.1,428.2 L264.3,422.8 L266.4,419.0 L269.3,406.8 L272.2,400.8 L274.4,397.4 L276.7,392.0 L278.5,385.5 L280.4,378.7 L282.2,372.5 L284.0,366.9 L287.0,359.5 L288.9,358.6 L290.7,356.6 L293.6,358.0 L295.9,360.8 L298.1,363.9 L299.8,364.3 L301.5,366.4 L303.2,366.9 L305.2,367.0 L307.1,369.5 L309.1,369.9 L310.8,370.4 L312.6,372.1 L314.3,372.8 L316.0,374.8 L317.8,375.0 L319.5,375.8 L321.7,377.6 L323.9,378.7 L326.8,384.6 L329.1,385.0 L331.3,386.1 L333.6,386.1 L336.0,388.0 L338.0,388.8 L340.0,390.8 L342.0,393.5 L344.0,395.0 L346.0,396.5 L348.0,398.4 L350.0,400.0 L352.0,402.1 L354.0,401.9 L356.0,404.0 L358.0,404.1 L360.0,405.6 L362.0,406.0 L364.0,405.5 L366.0,407.0 L368.0,408.5 L370.0,412.0 L372.0,413.0 L374.0,413.9 L376.0,416.0 L378.0,416.7 L380.0,417.4 L382.0,419.0 L383.9,421.9 L385.8,424.7 L387.6,426.7 L389.5,430.1 L391.4,431.6 L393.4,432.7 L395.2,437.3 L397.1,442.0 L398.9,440.0 L400.8,440.4 L402.6,438.3 L404.4,436.6 L406.3,435.1 L408.1,434.6 L410.0,435.0 L411.8,437.3 L413.7,438.3 L415.5,440.3 L417.4,441.3 L419.2,442.0 L421.0,441.2 L422.9,440.3 L424.7,440.1 L426.6,439.8 L428.4,441.7 L430.3,442.0 L432.1,444.9 L434.0,447.5 L435.8,450.9 L437.7,455.2 L439.5,458.6 L441.3,456.6 L443.2,455.7 L445.0,453.0 L446.9,452.5 L448.7,450.6 L450.5,451.0 L452.4,449.3 L454.2,447.9 L456.1,448.5 L457.9,447.8 L459.8,447.5 L461.6,444.2 L463.5,441.1 L465.4,439.7 L467.2,436.4 L469.0,435.4 L470.9,436.5 L472.7,436.4 L474.5,438.5 L476.4,438.2 L478.2,440.1 L480.1,439.2 L482.1,439.8 L484.0,439.3 L485.9,439.5 L487.7,440.0 L489.5,440.6 L491.4,440.2 L493.2,441.1 L495.1,442.9 L496.9,444.8 L498.7,446.3 L500.6,447.6 L502.4,450.4 L504.2,450.5 L506.1,449.7 L507.9,448.5 L509.8,448.0 L511.6,445.6 L513.5,445.7 L515.4,445.9 L517.2,445.3 L519.0,444.3 L520.9,443.9 L522.7,443.9 L524.5,442.9 L526.4,441.9 L528.2,442.0 L530.2,440.2 L532.1,439.5 L534.0,438.1 L536.0,438.0 L537.9,438.2 L539.7,439.6 L541.5,440.0 L543.4,440.2 L545.2,440.0 L547.1,438.8 L548.9,437.4 L550.8,433.3 L552.6,430.1 L554.5,424.7 L556.3,419.0 L558.1,418.9 L560.0,419.0 L561.9,415.9 L563.7,411.6 L566.0,412.6 L568.3,413.5 L571.1,410.7 L572.9,411.6 L574.7,413.5 L576.6,411.3 L578.4,409.5 L580.3,406.1 L582.1,398.7 L584.0,391.5 L585.8,385.4 L587.6,384.3 L589.5,381.7 L591.3,378.9 L593.2,377.6 L595.0,376.2 L596.9,372.9 L598.7,370.6 L600.5,368.3 L602.4,365.1 L604.2,363.2 L606.1,359.6 L608.0,355.5 L609.8,350.4 L611.6,347.3 L613.5,344.8 L615.4,341.9 L617.2,337.4 L619.0,336.2 L620.9,335.6 L622.8,331.4 L624.6,328.2 L626.4,322.6 L628.2,315.3 L630.4,309.7 L632.6,303.5 L634.5,298.3 L636.3,292.4 L638.1,290.0 L640.0,286.9 L641.9,287.9 L643.7,286.9 L645.5,282.2 L647.4,277.7 L650.1,268.5 L652.9,266.6 L655.1,261.1 L657.5,268.5 L660.3,266.6 L663.0,270.3 L665.8,274.0 L667.7,285.1 L669.5,292.4 L671.3,294.3 L673.1,297.7 L675.0,299.8 L676.9,302.0 L678.7,303.5 L680.5,307.9 L682.4,310.9 L684.2,315.4 L686.1,320.1 L688.0,326.1 L689.8,331.2 L691.6,338.7 L693.5,345.9 L695.2,348.6 L697.0,352.0 L698.8,357.7 L700.6,364.6 L702.2,368.5 L703.7,372.0 L705.5,377.9 L707.4,385.5 L709.2,389.1 L711.1,391.1 L713.0,391.3 L714.8,392.9 L716.6,395.7 L718.5,400.3 L720.3,403.2 L722.1,407.7 L724.0,411.3 L725.8,413.2 L727.6,418.8 L729.5,425.0 L731.7,426.1 L733.9,428.7 L736.5,431.3 L739.0,435.2 L741.0,435.6 L742.9,437.8 L744.8,436.2 L746.8,436.5 L748.8,436.2 L750.7,435.2 L752.3,436.8 L753.9,437.8 L755.8,440.4 L757.8,444.2 L760.4,448.1 L762.3,453.3 L764.3,457.6 L766.4,461.2 L768.3,464.1 L770.1,465.3 L772.0,468.6 L774.7,469.5 L777.0,472.0 L779.3,474.1 L781.2,478.7"/>
</g>
</svg>
</body></html>
